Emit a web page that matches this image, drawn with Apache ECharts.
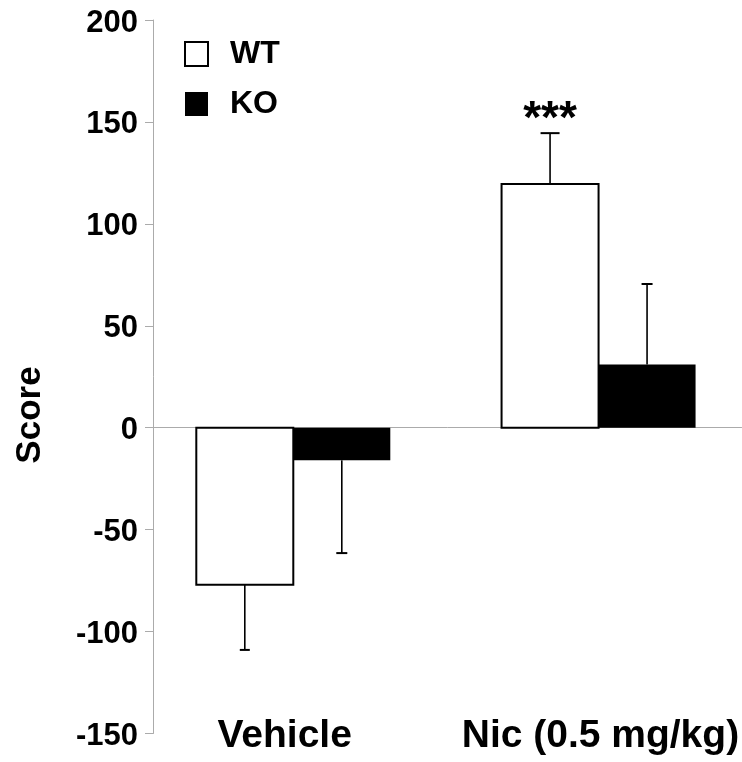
<!DOCTYPE html>
<html>
<head>
<meta charset="utf-8">
<script src="https://cdn.jsdelivr.net/npm/echarts@6/dist/echarts.min.js"></script>
<style>
html,body{margin:0;padding:0;background:#fff;}
#chart{width:742px;height:762px;}
</style>
</head>
<body>
<div id="chart"></div>
<script>
// ---- data ----
const categories = ['Vehicle', 'Nic (0.5 mg/kg)'];
const seriesNames = ['WT', 'KO'];
const wtMean = [-77, 119.5];
const wtSem = [32, 25];
const koMean = [-16, 31];
const koSem = [45.5, 39.5];
const significance = ['', '***'];
const yTicks = [-150, -100, -50, 0, 50, 100, 150, 200];

// ---- style ----
const FONT = '"Liberation Sans", Arial, sans-serif';
const AXIS_GREY = '#ababab';
const BAR_W = 97;
const CAP_W = { WT: [10, 19], KO: [11, 11] };
// category index space: group centres sit at index 0 and 1
const X_MIN = -0.4596, X_MAX = 1.4684;

function barSeries(name, means, sems, side, fill, stroke, caps, sig) {
  return {
    type: 'custom',
    name: name,
    xAxisIndex: 0,
    yAxisIndex: 0,
    z: 5,
    silent: true,
    encode: { x: 0, y: 1 },
    itemStyle: { color: fill, borderColor: stroke, borderWidth: stroke ? 2 : 0 },
    data: means.map((m, i) => [i, m, sems[i]]),
    renderItem: function (params, api) {
      const i = api.value(0);
      const m = api.value(1);
      const e = api.value(2);
      const dir = m < 0 ? -1 : 1;
      const pz = api.coord([i, 0]);
      const pm = api.coord([i, m]);
      const pe = api.coord([i, m + dir * e]);
      const left = side < 0 ? pz[0] - BAR_W : pz[0];
      const xc = left + BAR_W / 2;
      const cw = caps[i] / 2;
      const children = [
        {
          type: 'rect',
          shape: { x: left, y: Math.min(pz[1], pm[1]), width: BAR_W, height: Math.abs(pm[1] - pz[1]) },
          style: stroke ? { fill: fill, stroke: stroke, lineWidth: 2 } : { fill: fill }
        },
        { type: 'line', shape: { x1: xc, y1: pm[1], x2: xc, y2: pe[1] }, style: { stroke: '#000', lineWidth: 1.6 } },
        { type: 'line', shape: { x1: xc - cw, y1: pe[1], x2: xc + cw, y2: pe[1] }, style: { stroke: '#000', lineWidth: 2 } }
      ];
      if (sig && sig[i]) {
        children.push({
          type: 'text', x: xc, y: pe[1] - 13,
          style: { text: sig[i], font: 'bold 46px ' + FONT, fill: '#000', align: 'center', verticalAlign: 'middle' }
        });
      }
      return { type: 'group', children: children };
    }
  };
}

const chart = echarts.init(document.getElementById('chart'), null, { renderer: 'canvas' });
const option = {
  animation: false,
  backgroundColor: '#fff',
  textStyle: { fontFamily: FONT },
  grid: { left: 153, top: 20, right: 0, height: 713.5, containLabel: false },
  legend: {
    orient: 'vertical',
    left: 184, top: 38,
    padding: 0,
    itemWidth: 23, itemHeight: 24, itemGap: 18,
    textStyle: { fontSize: 32, fontWeight: 'bold', color: '#000', fontFamily: FONT, padding: [0, 0, 0, 17] },
    data: [
      { name: seriesNames[0], icon: 'rect', itemStyle: { color: '#fff', borderColor: '#000', borderWidth: 2 } },
      { name: seriesNames[1], icon: 'rect', itemStyle: { color: '#000', borderWidth: 0 } }
    ]
  },
  xAxis: [
    {
      type: 'value', min: X_MIN, max: X_MAX,
      axisLine: { show: true, onZero: true, lineStyle: { color: AXIS_GREY, width: 1 } },
      axisTick: { show: false }, axisLabel: { show: false }, splitLine: { show: false }
    },
    {
      type: 'category', data: categories, position: 'bottom',
      axisLine: { show: false, onZero: false }, axisTick: { show: false }, splitLine: { show: false },
      axisLabel: {
        interval: 0, hideOverlap: false,
        margin: 3, verticalAlign: 'middle', color: '#000',
        fontSize: 39, fontWeight: 'bold', fontFamily: FONT,
        formatter: function (v, i) { return i === 0 ? '{a|' + v + '}' : '{b|' + v + '}'; },
        rich: {
          a: { fontSize: 39, fontWeight: 'bold', fontFamily: FONT, color: '#000', padding: [0, 31, 0, 0] },
          b: { fontSize: 39, fontWeight: 'bold', fontFamily: FONT, color: '#000', padding: [0, 0, 0, 12] }
        }
      }
    }
  ],
  yAxis: {
    type: 'value', min: yTicks[0], max: yTicks[yTicks.length - 1], interval: 50,
    axisLine: { show: true, onZero: false, lineStyle: { color: AXIS_GREY, width: 1 } },
    axisTick: { show: true, length: 8, lineStyle: { color: AXIS_GREY, width: 1 } },
    splitLine: { show: false },
    axisLabel: {
      margin: 15, color: '#000', fontSize: 31, fontWeight: 'bold', fontFamily: FONT,
      formatter: function (v) { return '{t|' + v + '}'; },
      rich: { t: { fontSize: 31, fontWeight: 'bold', fontFamily: FONT, color: '#000', padding: [6, 0, 0, 0] } }
    }
  },
  graphic: [
    {
      type: 'text', x: 30.5, y: 415, rotation: Math.PI / 2,
      style: { text: 'Score', font: 'bold 35px ' + FONT, fill: '#000', align: 'center', verticalAlign: 'middle' }
    }
  ],
  series: [
    barSeries(seriesNames[0], wtMean, wtSem, -1, '#fff', '#000', CAP_W.WT, significance),
    barSeries(seriesNames[1], koMean, koSem, 1, '#000', null, CAP_W.KO, null)
  ]
};
chart.setOption(option);
</script>
</body>
</html>
